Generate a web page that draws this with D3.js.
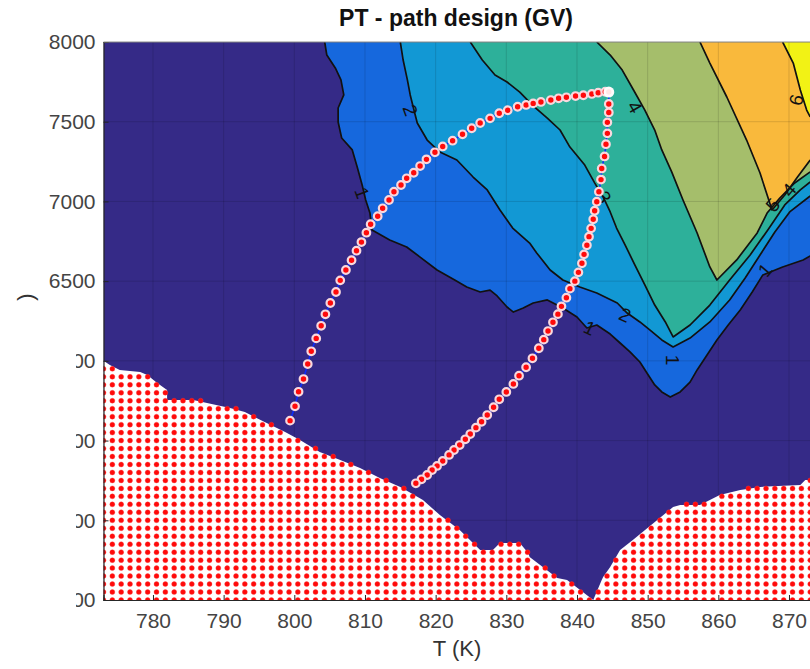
<!DOCTYPE html>
<html><head><meta charset="utf-8">
<script src="https://cdn.jsdelivr.net/npm/d3@7"></script>
<style>
body{margin:0;background:#fff}
svg{display:block;font-family:"Liberation Sans",Arial,Helvetica,sans-serif}
</style>
</head><body>
<svg id="chart" width="810" height="669"></svg>
<script>
// Axis ticks
const xTicks = [780, 790, 800, 810, 820, 830, 840, 850, 860, 870];
const yTicks = [4500, 5000, 5500, 6000, 6500, 7000, 7500, 8000];

// Contour boundaries [T, P]: each runs from the top edge to the right edge
const contour1 = [[804.3,8000],[804.6,7918],[805.8,7837],[806.6,7762],[807.0,7668],[806.2,7586],[806.2,7498],[806.7,7398],[808.2,7323],[808.9,7216],[809.6,7103],[810.1,7009],[810.7,6927],[811.0,6821],[813.5,6758],[815.9,6714],[817.8,6651],[820.2,6570],[822.7,6507],[824.4,6463],[826.3,6432],[827.7,6444],[828.7,6407],[830.1,6338],[831.0,6306],[832.4,6332],[833.8,6363],[835.8,6382],[838.0,6332],[840.0,6275],[841.4,6206],[842.8,6225],[844.7,6168],[846.1,6112],[847.5,6056],[848.9,5993],[849.9,5924],[851.0,5849],[852.0,5805],[853.2,5773],[854.6,5805],[856.0,5867],[857.0,5943],[858.4,6037],[859.8,6131],[861.4,6225],[863.1,6319],[864.8,6432],[866.3,6539],[869.1,6589],[872.0,6633],[873.0,6658]];
const contour2 = [[815.0,8000],[815.4,7887],[816.0,7762],[816.4,7668],[817.0,7561],[817.4,7492],[818.8,7385],[820.6,7310],[823.0,7260],[825.3,7153],[827.3,7072],[829.1,6946],[830.9,6833],[833.3,6739],[834.3,6677],[836.2,6570],[838.0,6507],[840.4,6463],[842.8,6426],[845.7,6363],[847.1,6300],[848.9,6244],[850.3,6194],[852.0,6131],[853.6,6087],[856.0,6143],[858.8,6244],[861.6,6382],[863.8,6520],[865.9,6664],[868.0,6808],[870.1,6934],[873.0,7034]];
const contour3 = [[824.9,8000],[826.6,7887],[828.4,7793],[830.1,7749],[831.9,7686],[833.8,7599],[835.8,7523],[837.6,7448],[839.0,7341],[841.1,7228],[842.5,7116],[843.7,7028],[844.7,6934],[845.6,6833],[846.8,6727],[848.2,6601],[849.6,6476],[851.0,6350],[852.5,6244],[853.6,6150],[856.0,6225],[858.8,6350],[861.6,6507],[864.5,6664],[867.0,6821],[869.4,6978],[871.6,7072],[873.0,7122]];
const contour4 = [[842.8,8000],[844.7,7918],[846.4,7824],[848.0,7699],[849.6,7573],[851.0,7448],[852.0,7323],[853.4,7185],[855.0,7009],[857.0,6802],[858.8,6589],[859.8,6507],[862.6,6633],[865.5,6802],[866.9,6927],[868.7,7021],[870.8,7116],[873.0,7185]];
const contour5 = [[857.4,8000],[858.8,7868],[861.2,7655],[864.0,7385],[865.9,7178],[867.6,6946],[869.4,7040],[871.1,7147],[873.0,7260]];
const contour6 = [[869.1,8000],[870.6,7868],[871.6,7699],[872.5,7573],[873.0,7530]];
const contourLevels = [contour1, contour2, contour3, contour4, contour5, contour6];
const levelColors = ["#352a87", "#1668dd", "#1298d4", "#2db09a", "#a5be6b", "#f9b93c", "#f2f215"];

// Contour labels [text, T, P, angle]
const contourLabels = [["2",816.4,7573,70],["1",809.6,7053,70],["3",843.8,7028,62],["4",848.2,7592,60],["6",871.0,7636,-75],["5",867.7,6978,-50],["4",870.0,7072,-50],["2",846.8,6288,25],["1",841.8,6206,25],["1",853.6,6005,90],["1",866.6,6570,-50]];

// Edge of the infeasible region (from left edge to right edge)
const infeasibleEdge = [[773.0,6000],[773.9,5974],[775.3,5943],[778.2,5930],[779.2,5911],[780.6,5861],[782.0,5817],[782.0,5754],[785.7,5754],[790.9,5704],[793.0,5679],[795.8,5616],[798.7,5554],[800.8,5504],[803.6,5428],[806.5,5378],[809.3,5328],[812.1,5265],[815.0,5209],[818.2,5127],[820.6,5033],[823.4,4939],[826.3,4814],[828.1,4814],[829.1,4858],[831.9,4858],[833.1,4795],[833.3,4770],[837.2,4638],[838.6,4625],[842.3,4500],[843.5,4625],[843.7,4644],[844.7,4707],[846.1,4814],[847.9,4876],[853.6,5083],[854.6,5096],[857.4,5096],[858.8,5127],[860.2,5159],[863.1,5190],[865.9,5209],[871.6,5221],[872.3,5253],[873.0,5253]];

// Mesh of the T-P sweep
const meshT = d3.range(773, 873.001, 1.25);
const meshP = d3.range(4500, 8000.001, 50);

// Designed paths
const path1T = [799.4,800.1,800.6,801.3,801.9,802.4,803.1,803.8,804.4,805.1,805.9,806.5,807.3,808.1,808.8,809.5,810.2,810.8,811.8,812.5,813.4,814.1,815.1,815.9,816.9,817.8,818.7,819.9,821.0,822.4,823.8,825.1,826.3,827.7,829.0,830.2,831.6,832.8,833.8,834.9,836.3,837.4,838.5,839.8,840.9,842.1,843.0,844.0,844.5];
const path1P = [5625,5715,5806,5886,5980,6060,6141,6220,6292,6363,6432,6505,6570,6631,6691,6745,6804,6857,6907,6957,7009,7061,7103,7145,7180,7222,7264,7308,7345,7381,7421,7459,7492,7521,7553,7572,7594,7605,7615,7624,7636,7647,7653,7661,7666,7674,7682,7688,7686];
const path2T = [844.5,844.5,844.5,844.3,844.3,844.1,843.9,843.5,843.4,843.1,842.8,842.5,842.3,842.0,841.7,841.4,841.0,840.7,840.2,839.7,839.0,838.5,837.8,837.3,836.6,835.9,835.3,834.6,833.7,832.8,831.8,831.0,830.0,829.0,828.2,827.3,826.5,825.7,824.9,824.2,823.4,822.6,821.9,821.0,820.2,819.5,818.8,818.0,817.2];
const path2P = [7686,7611,7558,7496,7427,7359,7282,7207,7137,7061,6998,6942,6888,6831,6779,6725,6668,6612,6555,6500,6453,6396,6342,6293,6242,6187,6133,6079,6016,5960,5907,5855,5805,5759,5709,5660,5618,5581,5541,5508,5472,5441,5410,5372,5341,5315,5284,5257,5232];

const svg = d3.select("#chart");
const mLeft = 103.5, mRight = 810.2, mTop = 42, mBottom = 600;
const x = d3.scaleLinear().domain([773, 873]).range([mLeft, mRight]);
const y = d3.scaleLinear().domain([4500, 8000]).range([mBottom, mTop]);
const line = d3.line().x(d => x(d[0])).y(d => y(d[1]));

const defs = svg.append("defs");
defs.append("clipPath").attr("id", "plotClip")
  .append("rect").attr("x", mLeft).attr("y", mTop).attr("width", mRight - mLeft).attr("height", mBottom - mTop);
const lc = defs.append("clipPath").attr("id", "labelClip");
lc.append("rect").attr("x", 0).attr("y", 0).attr("width", 810).attr("height", 303);
lc.append("rect").attr("x", 76).attr("y", 0).attr("width", 734).attr("height", 669);

const plot = svg.append("g").attr("clip-path", "url(#plotClip)");

// base level fill
plot.append("rect").attr("x", mLeft).attr("y", mTop).attr("width", mRight - mLeft).attr("height", mBottom - mTop)
  .attr("fill", levelColors[0]);

// filled levels, each region closed through the top-right corner
contourLevels.forEach((c, i) => {
  const poly = c.concat([[873, 8000]]);
  plot.append("path").attr("d", line(poly) + "Z").attr("fill", levelColors[i + 1]);
});

// grid
const grid = plot.append("g").attr("stroke", "#000").attr("stroke-opacity", 0.13).attr("stroke-width", 1);
grid.selectAll("line.v").data(xTicks).join("line").attr("class", "v")
  .attr("x1", d => x(d)).attr("x2", d => x(d)).attr("y1", mTop).attr("y2", mBottom);
grid.selectAll("line.h").data(yTicks).join("line").attr("class", "h")
  .attr("y1", d => y(d)).attr("y2", d => y(d)).attr("x1", mLeft).attr("x2", mRight);

// contour lines
contourLevels.forEach(c => {
  plot.append("path").attr("d", line(c)).attr("fill", "none")
    .attr("stroke", "#111").attr("stroke-width", 1.7).attr("stroke-linejoin", "round");
});

// infeasible region
const infeasiblePoly = infeasibleEdge.concat([[873, 4500], [773, 4500]]);
plot.append("path").attr("d", line(infeasiblePoly) + "Z").attr("fill", "#fff");

// mesh points that fall in the infeasible region
const testPoly = infeasibleEdge.map(d => [x(d[0]), y(d[1]) - 1])
  .concat([[x(873) + 5, y(4500) + 5], [x(773) - 5, y(4500) + 5]]);
testPoly[0][0] -= 5;
const meshPts = [];
meshT.forEach(t => meshP.forEach(p => {
  if (d3.polygonContains(testPoly, [x(t), y(p)])) meshPts.push([t, p]);
}));
plot.append("g").selectAll("circle").data(meshPts).join("circle")
  .attr("cx", d => x(d[0])).attr("cy", d => y(d[1])).attr("r", 2.5)
  .attr("fill", "#ff0a0a").attr("stroke", "#ff4040").attr("stroke-opacity", 0.35).attr("stroke-width", 1);

// contour labels
plot.append("g").selectAll("text").data(contourLabels).join("text")
  .attr("transform", d => `translate(${x(d[1])},${y(d[2])}) rotate(${d[3]})`)
  .attr("text-anchor", "middle").attr("dy", "0.35em")
  .attr("font-size", 19).attr("fill", "#111").text(d => d[0]);

// paths
const path1 = d3.zip(path1T, path1P);
const path2 = d3.zip(path2T, path2P);
[path1, path2].forEach(pts => {
  plot.append("path").attr("d", line(pts)).attr("fill", "none")
    .attr("stroke", "#0a2cff").attr("stroke-width", 1.5);
  plot.append("g").selectAll("circle").data(pts).join("circle")
    .attr("cx", d => x(d[0])).attr("cy", d => y(d[1])).attr("r", 3.8)
    .attr("fill", "#ff0a0a").attr("stroke", "#f8d8de").attr("stroke-width", 2.2);
});
// shared end point
plot.append("circle").attr("cx", x(path1T[path1T.length - 1])).attr("cy", y(path1P[path1P.length - 1]))
  .attr("r", 5.5).attr("fill", "#fff").attr("fill-opacity", 0.9);

// axes
const xAxis = d3.axisBottom(x).tickValues(xTicks).tickSize(-5).tickPadding(13).tickFormat(d3.format("d"));
const yAxis = d3.axisLeft(y).tickValues(yTicks).tickSize(-5).tickPadding(8).tickFormat(d3.format("d"));

const gx = svg.append("g").attr("transform", `translate(0,${mBottom})`).call(xAxis);
const gyOuter = svg.append("g").attr("clip-path", "url(#labelClip)");
const gy = gyOuter.append("g").attr("transform", `translate(${mLeft},0)`).call(yAxis);
[gx, gy].forEach(g => {
  g.select(".domain").attr("stroke", "#262626").attr("stroke-width", 1.2);
  g.selectAll(".tick line").attr("stroke", "#262626");
  g.selectAll(".tick text").attr("font-size", 21).attr("fill", "#444")
    .attr("font-family", '"Liberation Sans",Arial,sans-serif');
});
// box top edge
svg.append("line").attr("x1", mLeft).attr("x2", mRight).attr("y1", mTop).attr("y2", mTop)
  .attr("stroke", "#8a8a8a").attr("stroke-width", 1);

// axis titles
svg.append("text").attr("x", 456).attr("y", 26).attr("text-anchor", "middle")
  .attr("font-size", 23).attr("font-weight", "bold").attr("fill", "#111").text("PT - path design (GV)");
svg.append("text").attr("x", 457).attr("y", 656).attr("text-anchor", "middle")
  .attr("font-size", 22).attr("fill", "#333").text("T (K)");
gyOuter.append("text").attr("transform", "translate(33,297) rotate(-90)").attr("text-anchor", "middle")
  .attr("font-size", 22).attr("fill", "#333").text(")");
</script>
</body></html>
